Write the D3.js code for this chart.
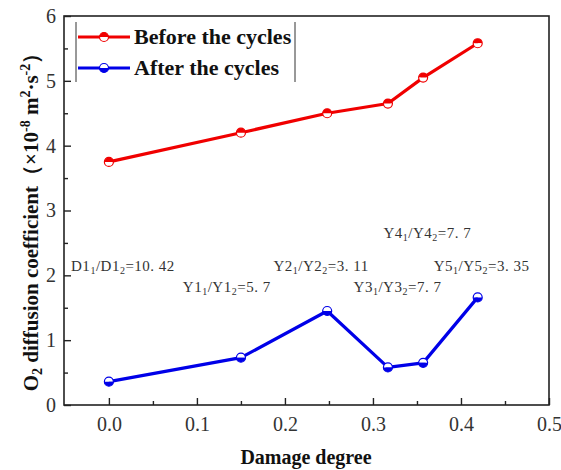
<!DOCTYPE html>
<html><head><meta charset="utf-8">
<script src="https://cdn.jsdelivr.net/npm/d3@7"></script>
<style>body{margin:0;background:#fff}svg{display:block}</style>
</head><body>
<svg id="c" width="561" height="470"></svg>
<script>
const damage = [0.0, 0.15, 0.248, 0.317, 0.357, 0.419];
const before = [3.75, 4.2, 4.5, 4.65, 5.05, 5.58];
const after = [0.36, 0.73, 1.45, 0.58, 0.65, 1.66];
const xTicks = [0.0, 0.1, 0.2, 0.3, 0.4, 0.5];
const yTicks = [0, 1, 2, 3, 4, 5, 6];
const seriesNames = ["Before the cycles", "After the cycles"];
const annotations = [
  {pre:"D1", a:"D1", val:"10.42", x:-0.043, y:2.06},
  {pre:"Y1", a:"Y1", val:"5.7", x:0.084, y:1.75},
  {pre:"Y2", a:"Y2", val:"3.11", x:0.187, y:2.06},
  {pre:"Y3", a:"Y3", val:"7.7", x:0.278, y:1.75},
  {pre:"Y4", a:"Y4", val:"7.7", x:0.312, y:2.58},
  {pre:"Y5", a:"Y5", val:"3.35", x:0.369, y:2.06}
];

const svg = d3.select("#c");
const L = 64, R = 549, T = 16, B = 405;
const x = d3.scaleLinear().domain([-0.051, 0.5]).range([L, R]);
const y = d3.scaleLinear().domain([0, 6]).range([B, T]);
const serif = '"Liberation Serif"';

// frame
svg.append("rect").attr("x", L).attr("y", T).attr("width", R - L).attr("height", B - T)
  .attr("fill", "none").attr("stroke", "#222").attr("stroke-width", 1.6);

// x axis
const xAxis = d3.axisBottom(x).tickValues(xTicks).tickFormat(d3.format(".1f")).tickSizeInner(-7).tickSizeOuter(0).tickPadding(12);
const gx = svg.append("g").attr("transform", `translate(0,${B})`).call(xAxis);
gx.select(".domain").remove();
gx.selectAll("line").attr("stroke", "#222").attr("stroke-width", 1.4);
gx.selectAll("text").style("font-family", serif).style("font-size", "20px").attr("fill", "#333");
const xMinor = svg.append("g").attr("transform", `translate(0,${B})`)
  .call(d3.axisBottom(x).tickValues([0.05, 0.15, 0.25, 0.35, 0.45]).tickSizeInner(-4).tickSizeOuter(0).tickFormat(""));
xMinor.select(".domain").remove();
xMinor.selectAll("line").attr("stroke", "#222").attr("stroke-width", 1.4);

// y axis
const yAxis = d3.axisLeft(y).tickValues(yTicks).tickFormat(d3.format("d")).tickSizeInner(-7).tickSizeOuter(0).tickPadding(8);
const gy = svg.append("g").attr("transform", `translate(${L},0)`).call(yAxis);
gy.select(".domain").remove();
gy.selectAll("line").attr("stroke", "#222").attr("stroke-width", 1.4);
gy.selectAll("text").style("font-family", serif).style("font-size", "20px").attr("fill", "#333");
const yMinor = svg.append("g").attr("transform", `translate(${L},0)`)
  .call(d3.axisLeft(y).tickValues([0.5, 1.5, 2.5, 3.5, 4.5, 5.5]).tickSizeInner(-4).tickSizeOuter(0).tickFormat(""));
yMinor.select(".domain").remove();
yMinor.selectAll("line").attr("stroke", "#222").attr("stroke-width", 1.4);

// axis titles
svg.append("text").attr("x", 306).attr("y", 464).attr("text-anchor", "middle")
  .style("font-family", serif).style("font-weight", "bold").style("font-size", "20px").attr("fill", "#111")
  .text("Damage degree");
const yt = svg.append("text").attr("transform", `translate(38,217) rotate(-90)`)
  .attr("text-anchor", "middle").style("font-family", serif).style("font-weight", "bold")
  .style("font-size", "21px").attr("fill", "#111");
yt.append("tspan").text("O");
yt.append("tspan").style("font-size", "14px").attr("dy", 4).text("2");
yt.append("tspan").attr("dy", -4).text(" diffusion coefficient（×10");
yt.append("tspan").style("font-size", "14px").attr("dy", -8).text("-8");
yt.append("tspan").attr("dy", 8).text(" m");
yt.append("tspan").style("font-size", "14px").attr("dy", -8).text("2");
yt.append("tspan").attr("dy", 8).text("·s");
yt.append("tspan").style("font-size", "14px").attr("dy", -8).text("-2");
yt.append("tspan").attr("dy", 8).text("）");

// series
const series = [
  {name: seriesNames[0], vals: before, color: "#f00000", topFilled: true},
  {name: seriesNames[1], vals: after, color: "#0000e8", topFilled: false}
];
const line = d3.line().x(d => x(d[0])).y(d => y(d[1]));
function marker(g, cx, cy, color, topFilled) {
  const r = 4.5;
  const top = `M${cx - r},${cy} A${r},${r} 0 0 1 ${cx + r},${cy} Z`;
  const bot = `M${cx - r},${cy} A${r},${r} 0 0 0 ${cx + r},${cy} Z`;
  g.append("path").attr("d", top).attr("fill", topFilled ? color : "#fff");
  g.append("path").attr("d", bot).attr("fill", topFilled ? "#fff" : color);
  g.append("circle").attr("cx", cx).attr("cy", cy).attr("r", r).attr("fill", "none")
    .attr("stroke", color).attr("stroke-width", 1.2);
}
series.forEach(s => {
  const pts = damage.map((d, i) => [d, s.vals[i]]);
  svg.append("path").attr("d", line(pts)).attr("fill", "none").attr("stroke", s.color)
    .attr("stroke-width", 3.2).attr("stroke-linejoin", "round");
  const g = svg.append("g");
  pts.forEach(p => marker(g, x(p[0]), y(p[1]), s.color, s.topFilled));
});

// annotations
annotations.forEach(a => {
  const t = svg.append("text").attr("x", x(a.x)).attr("y", y(a.y))
    .style("font-family", serif).style("font-size", "15px").style("letter-spacing", "0.5px").attr("fill", "#333");
  t.append("tspan").text(a.pre);
  t.append("tspan").style("font-size", "10px").attr("dy", 3).text("1");
  t.append("tspan").attr("dy", -3).text("/" + a.a);
  t.append("tspan").style("font-size", "10px").attr("dy", 3).text("2");
  t.append("tspan").attr("dy", -3).text("=" + a.val.replace(".", ". "));
});

// legend
const lg = svg.append("g");
lg.append("line").attr("x1", 76).attr("x2", 76).attr("y1", 22).attr("y2", 82).attr("stroke", "#333").attr("stroke-width", 1);
lg.append("line").attr("x1", 295).attr("x2", 295).attr("y1", 22).attr("y2", 82).attr("stroke", "#333").attr("stroke-width", 1);
series.forEach((s, i) => {
  const yy = 37 + i * 31;
  lg.append("line").attr("x1", 78).attr("x2", 130).attr("y1", yy).attr("y2", yy)
    .attr("stroke", s.color).attr("stroke-width", 3.2);
  marker(lg, 104, yy, s.color, s.topFilled);
  lg.append("text").attr("x", 134).attr("y", yy + 7).style("font-family", serif)
    .style("font-weight", "bold").style("font-size", "22px").attr("fill", "#111").text(s.name);
});
</script>
</body></html>
